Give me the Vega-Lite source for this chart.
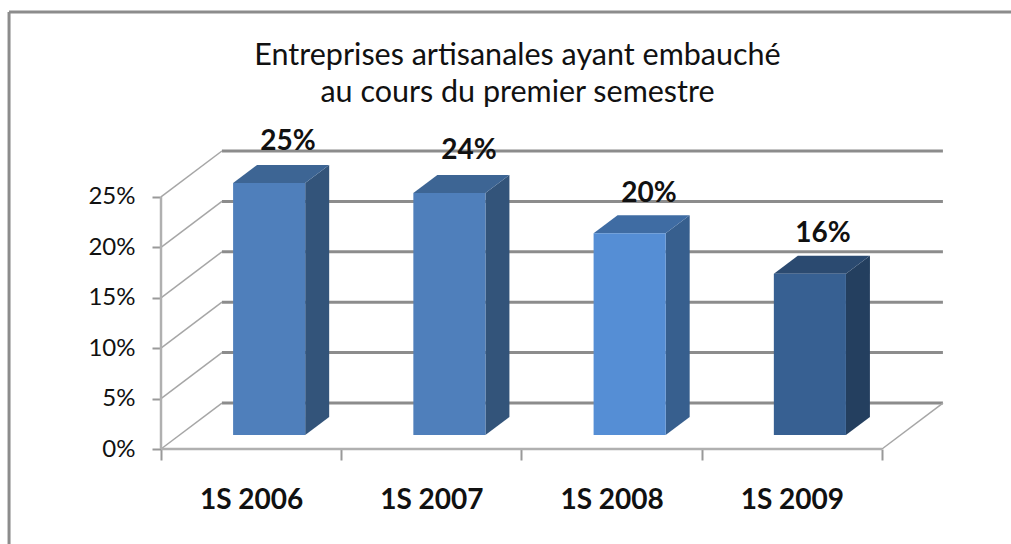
{"$schema":"https://vega.github.io/schema/vega-lite/v6.json","width":783,"height":298,"autosize":"none","padding":{"left":161,"top":151,"right":67,"bottom":95},"background":"white","view":{"stroke":null},
"title":{"text":["Entreprises artisanales ayant embauché","au cours du premier semestre"],"font":"Lato","fontSize":30.5,"fontWeight":"normal","color":"#111111","anchor":"middle","frame":"group","dx":-35,"offset":-98,"lineHeight":37},
"datasets":{
"cadre":[{"x":-0.843,"y":-0.0942,"x2":-0.843,"y2":0.4335},{"x":-0.843,"y":0.4335,"x2":4.716,"y2":0.4335}],
"fond":[{"x":0.338,"x2":4.338,"y":0.0456,"y2":0.0456},{"x":0.338,"x2":4.338,"y":0.0956,"y2":0.0956},{"x":0.338,"x2":4.338,"y":0.1456,"y2":0.1456},{"x":0.338,"x2":4.338,"y":0.1956,"y2":0.1956},{"x":0.338,"x2":4.338,"y":0.2456,"y2":0.2456},{"x":0.338,"x2":4.338,"y":0.2956,"y2":0.2956}],
"obliques":[{"x":0,"x2":0.338,"y":0,"y2":0.0456},{"x":0,"x2":0.338,"y":0.05,"y2":0.0956},{"x":0,"x2":0.338,"y":0.1,"y2":0.1456},{"x":0,"x2":0.338,"y":0.15,"y2":0.1956},{"x":0,"x2":0.338,"y":0.2,"y2":0.2456},{"x":0,"x2":0.338,"y":0.25,"y2":0.2956},{"x":4,"x2":4.338,"y":0,"y2":0.0456}],
"axes":[{"x":0,"x2":4,"y":0,"y2":0},{"x":0,"x2":0,"y":0,"y2":0.25}],
"faces":[
{"face":"2006 côté","x":0.8,"y":0.2639,"y2":0.0139},{"face":"2006 côté","x":0.933,"y":0.2818,"y2":0.0318},
{"face":"2007 côté","x":1.8,"y":0.2539,"y2":0.0139},{"face":"2007 côté","x":1.933,"y":0.2718,"y2":0.0318},
{"face":"2008 côté","x":2.8,"y":0.2139,"y2":0.0139},{"face":"2008 côté","x":2.933,"y":0.2318,"y2":0.0318},
{"face":"2009 côté","x":3.8,"y":0.1739,"y2":0.0139},{"face":"2009 côté","x":3.933,"y":0.1918,"y2":0.0318},
{"face":"2006 dessus","x":0.4,"y":0.2639,"y2":0.2639},{"face":"2006 dessus","x":0.533,"y":0.2818,"y2":0.2639},{"face":"2006 dessus","x":0.8,"y":0.2818,"y2":0.2639},{"face":"2006 dessus","x":0.933,"y":0.2818,"y2":0.2818},
{"face":"2007 dessus","x":1.4,"y":0.2539,"y2":0.2539},{"face":"2007 dessus","x":1.533,"y":0.2718,"y2":0.2539},{"face":"2007 dessus","x":1.8,"y":0.2718,"y2":0.2539},{"face":"2007 dessus","x":1.933,"y":0.2718,"y2":0.2718},
{"face":"2008 dessus","x":2.4,"y":0.2139,"y2":0.2139},{"face":"2008 dessus","x":2.533,"y":0.2318,"y2":0.2139},{"face":"2008 dessus","x":2.8,"y":0.2318,"y2":0.2139},{"face":"2008 dessus","x":2.933,"y":0.2318,"y2":0.2318},
{"face":"2009 dessus","x":3.4,"y":0.1739,"y2":0.1739},{"face":"2009 dessus","x":3.533,"y":0.1918,"y2":0.1739},{"face":"2009 dessus","x":3.8,"y":0.1918,"y2":0.1739},{"face":"2009 dessus","x":3.933,"y":0.1918,"y2":0.1918}],
"barres":[
{"face":"2006 avant","x":0.4,"x2":0.8,"y":0.2639,"y2":0.0139},
{"face":"2007 avant","x":1.4,"x2":1.8,"y":0.2539,"y2":0.0139},
{"face":"2008 avant","x":2.4,"x2":2.8,"y":0.2139,"y2":0.0139},
{"face":"2009 avant","x":3.4,"x2":3.8,"y":0.1739,"y2":0.0139}],
"etiquettes":[{"label":"25%","x":0.705,"y":0.3045},{"label":"24%","x":1.709,"y":0.2956},{"label":"20%","x":2.707,"y":0.253},{"label":"16%","x":3.673,"y":0.2133}]
},
"encoding":{
"x":{"field":"x","type":"quantitative","scale":{"domain":[0,4.344],"nice":false,"zero":false},"axis":{"title":null,"grid":false,"domain":false,"values":[0,0.5,1,1.5,2,2.5,3,3.5,4],"labelExpr":"datum.value==0.5?'1S 2006':datum.value==1.5?'1S 2007':datum.value==2.5?'1S 2008':datum.value==3.5?'1S 2009':''","labelFont":"Lato","labelFontWeight":"bold","labelFontSize":28,"labelColor":"#111111","labelPadding":26,"labelFlush":false,"labelOverlap":false,"tickSize":11,"tickWidth":2,"tickColor":"#999999","tickOpacity":{"condition":{"test":"datum.value%1==0","value":1},"value":0}}},
"y":{"field":"y","type":"quantitative","scale":{"domain":[0,0.2956],"nice":false,"zero":false},"axis":{"title":null,"grid":false,"domain":false,"values":[0,0.05,0.1,0.15,0.2,0.25],"format":".0%","labelFont":"Lato","labelFontSize":24,"labelColor":"#111111","labelPadding":17,"labelFlush":false,"tickSize":9,"tickWidth":2,"tickColor":"#999999"}}
},
"layer":[
{"data":{"name":"cadre"},"mark":{"type":"rule","color":"#8c8c8c","strokeWidth":3,"clip":false},"encoding":{"x2":{"field":"x2"},"y2":{"field":"y2"}}},
{"data":{"name":"fond"},"mark":{"type":"rule","color":"#8c8c8c","strokeWidth":3},"encoding":{"x2":{"field":"x2"},"y2":{"field":"y2"}}},
{"data":{"name":"obliques"},"mark":{"type":"rule","color":"#a6a6a6","strokeWidth":1.5},"encoding":{"x2":{"field":"x2"},"y2":{"field":"y2"}}},
{"data":{"name":"axes"},"mark":{"type":"rule","color":"#b0b0b0","strokeWidth":2.5},"encoding":{"x2":{"field":"x2"},"y2":{"field":"y2"}}},
{"data":{"name":"faces"},"mark":{"type":"area","interpolate":"linear","line":false},"encoding":{"y":{"field":"y","type":"quantitative","stack":null},"y2":{"field":"y2"},"detail":{"field":"face"},"color":{"field":"face","type":"nominal","legend":null,"scale":{"domain":["2006 côté","2007 côté","2008 côté","2009 côté","2006 dessus","2007 dessus","2008 dessus","2009 dessus"],"range":["#33547a","#33547a","#375f8e","#243f5f","#3d6594","#3d6594","#3f6ca3","#2b4a70"]}}}},
{"data":{"name":"barres"},"mark":{"type":"rect"},"encoding":{"x2":{"field":"x2"},"y2":{"field":"y2"},"color":{"field":"face","type":"nominal","legend":null,"scale":{"domain":["2006 avant","2007 avant","2008 avant","2009 avant"],"range":["#4f7fbb","#4f7fbb","#558ed5","#376092"]}}}},
{"data":{"name":"etiquettes"},"mark":{"type":"text","font":"Lato","fontSize":28,"fontWeight":"bold","color":"#111111","baseline":"middle","align":"center","clip":false},"encoding":{"text":{"field":"label"}}}
],
"resolve":{"scale":{"color":"independent"}}
}
